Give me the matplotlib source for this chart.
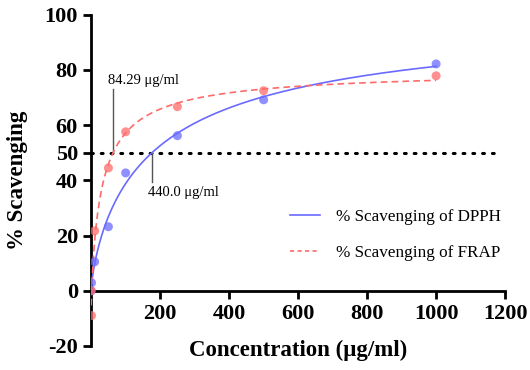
import matplotlib
matplotlib.use("Agg")
import matplotlib.pyplot as plt
from matplotlib.lines import Line2D
import numpy as np

# data
conc = [0, 1, 10, 50, 100, 250, 500, 1000]
dpph = [0, 2.9, 10.5, 23.2, 42.7, 56.2, 69.2, 82.2]
frap = [0, -9.0, 21.7, 44.5, 57.6, 66.7, 72.5, 77.9]
ic50_labels = ["84.29 \u03bcg/ml", "440.0 \u03bcg/ml"]
xticks = [200, 400, 600, 800, 1000, 1200]
yticks = [-20, 0, 20, 40, 50, 60, 80, 100]

BLUE = "#6a6aff"
RED = "#ff6b6b"

plt.rcParams["font.family"] = ["Liberation Serif", "DejaVu Serif"]
plt.rcParams["axes.unicode_minus"] = False


def fit_curve(x, y):
    # crude 4-parameter logistic fit: grid over K and h, linear solve for bottom/top
    x = np.asarray(x, float)
    y = np.asarray(y, float)
    best = None
    for K in np.logspace(0.5, 3.5, 160):
        for h in np.linspace(0.3, 2.5, 60):
            f = x ** h / (K ** h + x ** h)
            A = np.column_stack([np.ones_like(f), f])
            coef, *_ = np.linalg.lstsq(A, y, rcond=None)
            err = np.sum((A @ coef - y) ** 2)
            if best is None or err < best[0]:
                best = (err, K, h, coef)
    _, K, h, (b, s) = best
    return lambda xx: b + s * xx ** h / (K ** h + xx ** h)


fig = plt.figure(figsize=(5.3, 3.7), dpi=100)
ax = fig.add_axes([0.172, 0.065, 0.781, 0.895])

xs = np.linspace(0, 1000, 600)
f_dpph = fit_curve(conc, dpph)
f_frap = fit_curve(conc, frap)
ax.plot(xs, f_dpph(xs), color=BLUE, lw=1.2, zorder=3)
ax.plot(xs, f_frap(xs), color=RED, lw=1.2, ls=(0, (4, 2.5)), zorder=3)
ax.scatter(conc, dpph, s=42, color=BLUE, alpha=0.75, edgecolors="none", zorder=4)
ax.scatter(conc, frap, s=42, color=RED, alpha=0.75, edgecolors="none", zorder=4)

# 50% line
ax.plot([0, 1180], [50, 50], color="black", lw=2.2, ls=(0, (0.6, 2.6)),
        dash_capstyle="round", zorder=2)

# IC50 markers
ax.plot([64, 64], [50, 73], color="#555555", lw=1, zorder=2)
ax.text(50, 74, ic50_labels[0], fontsize=10.5, ha="left", va="bottom")
ax.plot([177, 177], [50, 39.5], color="#555555", lw=1, zorder=2)
ax.text(165, 37.8, ic50_labels[1], fontsize=10.5, ha="left", va="top")

ax.set_xlim(0, 1200)
ax.set_ylim(-20, 100)
ax.spines["top"].set_visible(False)
ax.spines["right"].set_visible(False)
ax.spines["bottom"].set_position(("data", 0))
for sp in ("left", "bottom"):
    ax.spines[sp].set_linewidth(2)
ax.set_xticks(xticks)
ax.set_yticks(yticks)
ax.tick_params(width=2, length=6, labelsize=16, direction="out")
ax.set_xticklabels([str(t) for t in xticks], fontweight="bold")
ax.set_yticklabels([str(t) for t in yticks], fontweight="bold")

ax.set_xlabel("Concentration (\u03bcg/ml)", fontsize=16.5, fontweight="bold")
ax.xaxis.set_label_coords(0.5, 0.018)
ax.set_ylabel("% Scavenging", fontsize=16.5, fontweight="bold")
ax.yaxis.set_label_coords(-0.152, 0.5)

handles = [Line2D([], [], color=BLUE, lw=1.2),
           Line2D([], [], color=RED, lw=1.2, ls=(0, (2.5, 2)))]
ax.legend(handles, ["% Scavenging of DPPH", "% Scavenging of FRAP"],
          frameon=False, fontsize=12.3, loc="center left",
          bbox_to_anchor=(290 / 530, 1 - 235 / 370), bbox_transform=fig.transFigure,
          borderpad=0, borderaxespad=0, handlelength=1.75, handletextpad=0.95,
          labelspacing=1.2)

fig.savefig("out.png", dpi=100)
